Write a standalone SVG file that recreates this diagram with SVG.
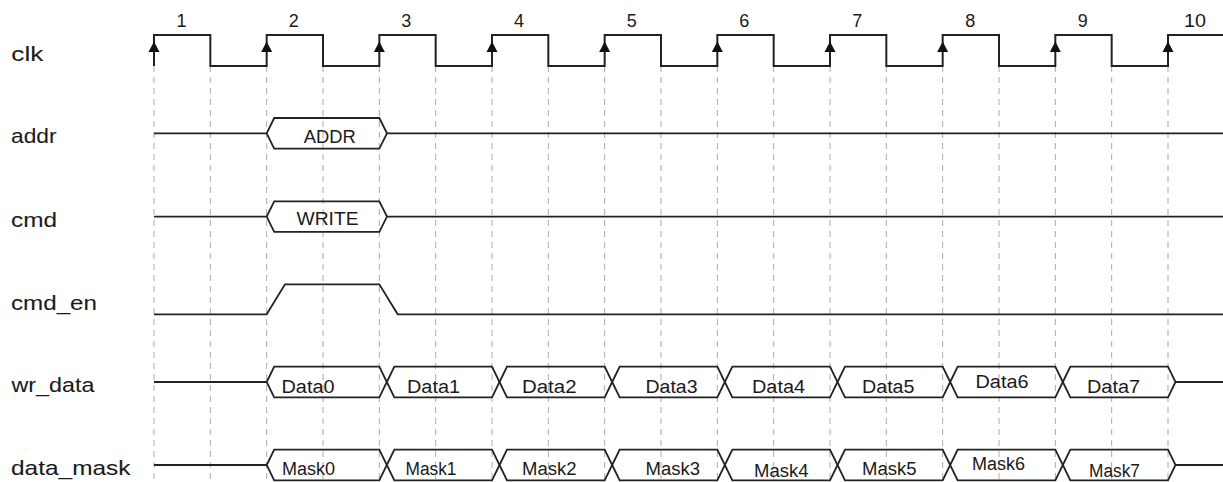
<svg xmlns="http://www.w3.org/2000/svg" xmlns:xlink="http://www.w3.org/1999/xlink" width="1223" height="482" viewBox="0 0 1223 482">
<style>
  .grid line { stroke:#ababab; stroke-width:1; stroke-dasharray:6 5; }
  .wave { fill:none; stroke:#222222; stroke-width:1.8; stroke-linejoin:miter; }
  .clkw { fill:none; stroke:#222222; stroke-width:2; }
  .lbl { font-family:"Liberation Sans", Arial, sans-serif; font-size:21px; fill:#1a1a1a; stroke:#1a1a1a; stroke-width:0.08; }
  .num { font-family:"Liberation Sans", Arial, sans-serif; font-size:18px; fill:#1a1a1a; text-anchor:middle; }
  .bus { font-family:"Liberation Sans", Arial, sans-serif; font-size:18px; fill:#1a1a1a; }
  .arr { fill:#111; }
</style>
<defs>
  <path id="arrow" d="M0,-9 L5.5,1.5 L-5.5,1.5 Z"/>
</defs>
<rect width="1223" height="482" fill="#ffffff"/>

<g id="grid" class="grid">
  <line x1="154" y1="66" x2="154" y2="482"/>
  <line x1="210.33" y1="66" x2="210.33" y2="482"/>
  <line x1="266.67" y1="66" x2="266.67" y2="482"/>
  <line x1="323" y1="66" x2="323" y2="482"/>
  <line x1="379.33" y1="66" x2="379.33" y2="482"/>
  <line x1="435.67" y1="66" x2="435.67" y2="482"/>
  <line x1="492" y1="66" x2="492" y2="482"/>
  <line x1="548.33" y1="66" x2="548.33" y2="482"/>
  <line x1="604.67" y1="66" x2="604.67" y2="482"/>
  <line x1="661" y1="66" x2="661" y2="482"/>
  <line x1="717.33" y1="66" x2="717.33" y2="482"/>
  <line x1="773.67" y1="66" x2="773.67" y2="482"/>
  <line x1="830" y1="66" x2="830" y2="482"/>
  <line x1="886.33" y1="66" x2="886.33" y2="482"/>
  <line x1="942.67" y1="66" x2="942.67" y2="482"/>
  <line x1="999" y1="66" x2="999" y2="482"/>
  <line x1="1055.33" y1="66" x2="1055.33" y2="482"/>
  <line x1="1111.67" y1="66" x2="1111.67" y2="482"/>
  <line x1="1168" y1="66" x2="1168" y2="482"/>
</g>

<g id="clk">
  <text class="lbl" x="11.3" y="60.5" textLength="32" lengthAdjust="spacingAndGlyphs">clk</text>
  <path class="clkw" d="M154,66 V35 H210.33 V66 H266.67 V35 H323 V66 H379.33 V35 H435.67 V66 H492 V35 H548.33 V66 H604.67 V35 H661 V66 H717.33 V35 H773.67 V66 H830 V35 H886.33 V66 H942.67 V35 H999 V66 H1055.33 V35 H1111.67 V66 H1168 V35 H1223"/>
  <g class="arr">
    <use xlink:href="#arrow" x="154" y="50.5"/>
    <use xlink:href="#arrow" x="266.67" y="50.5"/>
    <use xlink:href="#arrow" x="379.33" y="50.5"/>
    <use xlink:href="#arrow" x="492" y="50.5"/>
    <use xlink:href="#arrow" x="604.67" y="50.5"/>
    <use xlink:href="#arrow" x="717.33" y="50.5"/>
    <use xlink:href="#arrow" x="830" y="50.5"/>
    <use xlink:href="#arrow" x="942.67" y="50.5"/>
    <use xlink:href="#arrow" x="1055.33" y="50.5"/>
    <use xlink:href="#arrow" x="1168" y="50.5"/>
  </g>
  <text class="num" x="181.5" y="26.7">1</text>
  <text class="num" x="293.7" y="26.7">2</text>
  <text class="num" x="406.3" y="26.7">3</text>
  <text class="num" x="519" y="26.7">4</text>
  <text class="num" x="631.7" y="26.7">5</text>
  <text class="num" x="744.3" y="26.7">6</text>
  <text class="num" x="857.3" y="26.7">7</text>
  <text class="num" x="970.3" y="26.7">8</text>
  <text class="num" x="1082.8" y="26.7">9</text>
  <text class="num" x="1195" y="26.7" textLength="22" lengthAdjust="spacingAndGlyphs">10</text>
</g>

<g id="addr">
  <text class="lbl" x="11" y="143.3" textLength="45.5" lengthAdjust="spacingAndGlyphs">addr</text>
  <path class="wave" d="M154,133.3 H266.67 M387,133.3 H1223"/>
  <path class="wave" d="M266.67,133.3 L274.2,118 H379.33 L387,133.3 L379.33,148.6 H274.2 Z"/>
  <text class="bus" x="303.8" y="143.3" textLength="52" lengthAdjust="spacingAndGlyphs">ADDR</text>
</g>

<g id="cmd">
  <text class="lbl" x="11" y="226.7" textLength="46" lengthAdjust="spacingAndGlyphs">cmd</text>
  <path class="wave" d="M154,216.6 H266.67 M387,216.6 H1223"/>
  <path class="wave" d="M266.67,216.6 L274.2,201.3 H379.33 L387,216.6 L379.33,231.9 H274.2 Z"/>
  <text class="bus" x="296.5" y="225" textLength="62" lengthAdjust="spacingAndGlyphs">WRITE</text>
</g>

<g id="cmd_en">
  <text class="lbl" x="11" y="310" textLength="86" lengthAdjust="spacingAndGlyphs">cmd_en</text>
  <path class="wave" d="M154,314.3 H266.67 L285,284.3 H379.33 L397.7,314.3 H1223"/>
</g>

<g id="wr_data">
  <text class="lbl" x="11.5" y="391.7" textLength="83" lengthAdjust="spacingAndGlyphs">wr_data</text>
  <path class="wave" d="M154,382 H266.67 M1175.5,382 H1223"/>
  <path class="wave" d="M266.67,382 L274.2,366.7 H379.33 L386.83,382 L379.33,397.3 H274.2 Z"/>
  <path class="wave" d="M386.83,382 L394.33,366.7 H492 L499.5,382 L492,397.3 H394.33 Z"/>
  <path class="wave" d="M499.5,382 L507,366.7 H604.67 L612.17,382 L604.67,397.3 H507 Z"/>
  <path class="wave" d="M612.17,382 L619.67,366.7 H717.33 L724.83,382 L717.33,397.3 H619.67 Z"/>
  <path class="wave" d="M724.83,382 L732.33,366.7 H830 L837.5,382 L830,397.3 H732.33 Z"/>
  <path class="wave" d="M837.5,382 L845,366.7 H942.67 L950.17,382 L942.67,397.3 H845 Z"/>
  <path class="wave" d="M950.17,382 L957.67,366.7 H1055.33 L1062.83,382 L1055.33,397.3 H957.67 Z"/>
  <path class="wave" d="M1062.83,382 L1070.33,366.7 H1168 L1175.5,382 L1168,397.3 H1070.33 Z"/>
  <text class="bus" x="281.5" y="393.3" textLength="53" lengthAdjust="spacingAndGlyphs">Data0</text>
  <text class="bus" x="407" y="393.3" textLength="53" lengthAdjust="spacingAndGlyphs">Data1</text>
  <text class="bus" x="522" y="393.3" textLength="54.5" lengthAdjust="spacingAndGlyphs">Data2</text>
  <text class="bus" x="645.5" y="393.3" textLength="52" lengthAdjust="spacingAndGlyphs">Data3</text>
  <text class="bus" x="752" y="393.3" textLength="53" lengthAdjust="spacingAndGlyphs">Data4</text>
  <text class="bus" x="862" y="393.3" textLength="52.5" lengthAdjust="spacingAndGlyphs">Data5</text>
  <text class="bus" x="975.5" y="388.3" textLength="53" lengthAdjust="spacingAndGlyphs">Data6</text>
  <text class="bus" x="1087" y="393.3" textLength="53" lengthAdjust="spacingAndGlyphs">Data7</text>
</g>

<g id="data_mask">
  <text class="lbl" x="11" y="475" textLength="119.5" lengthAdjust="spacingAndGlyphs">data_mask</text>
  <path class="wave" d="M154,465 H266.67 M1175.5,465 H1223"/>
  <path class="wave" d="M266.67,465 L274.2,449.7 H379.33 L386.83,465 L379.33,480.3 H274.2 Z"/>
  <path class="wave" d="M386.83,465 L394.33,449.7 H492 L499.5,465 L492,480.3 H394.33 Z"/>
  <path class="wave" d="M499.5,465 L507,449.7 H604.67 L612.17,465 L604.67,480.3 H507 Z"/>
  <path class="wave" d="M612.17,465 L619.67,449.7 H717.33 L724.83,465 L717.33,480.3 H619.67 Z"/>
  <path class="wave" d="M724.83,465 L732.33,449.7 H830 L837.5,465 L830,480.3 H732.33 Z"/>
  <path class="wave" d="M837.5,465 L845,449.7 H942.67 L950.17,465 L942.67,480.3 H845 Z"/>
  <path class="wave" d="M950.17,465 L957.67,449.7 H1055.33 L1062.83,465 L1055.33,480.3 H957.67 Z"/>
  <path class="wave" d="M1062.83,465 L1070.33,449.7 H1168 L1175.5,465 L1168,480.3 H1070.33 Z"/>
  <text class="bus" x="282" y="475" textLength="53" lengthAdjust="spacingAndGlyphs">Mask0</text>
  <text class="bus" x="405.5" y="475" textLength="51" lengthAdjust="spacingAndGlyphs">Mask1</text>
  <text class="bus" x="522" y="475" textLength="54.5" lengthAdjust="spacingAndGlyphs">Mask2</text>
  <text class="bus" x="645.5" y="475" textLength="54.5" lengthAdjust="spacingAndGlyphs">Mask3</text>
  <text class="bus" x="754" y="477.3" textLength="54.5" lengthAdjust="spacingAndGlyphs">Mask4</text>
  <text class="bus" x="862" y="475" textLength="54.5" lengthAdjust="spacingAndGlyphs">Mask5</text>
  <text class="bus" x="972" y="470" textLength="53" lengthAdjust="spacingAndGlyphs">Mask6</text>
  <text class="bus" x="1089" y="476.7" textLength="51" lengthAdjust="spacingAndGlyphs">Mask7</text>
</g>
</svg>
